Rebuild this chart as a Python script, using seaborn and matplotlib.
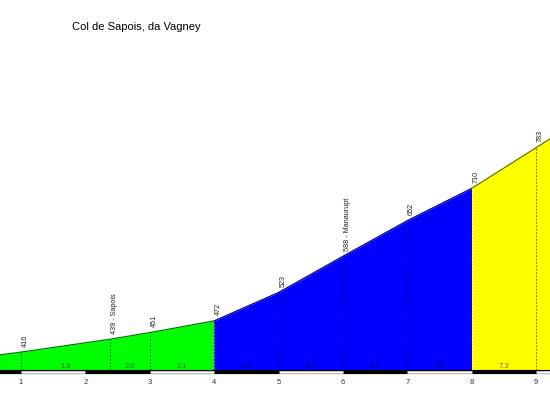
import matplotlib
matplotlib.use("Agg")
import matplotlib.pyplot as plt
import seaborn as sns
import numpy as np
import pandas as pd

# profile points (km, altitude)
km = [0, 1, 2.38, 3, 4, 5, 6, 7, 8, 9, 10]
alt = [401, 416, 439, 451, 472, 523, 588, 652, 710, 783, 857]
# labels shown above the profile
label_km = [1, 2.38, 3, 4, 5, 6, 7, 8, 9]
label_txt = ["416", "439 - Sapois", "451", "472", "523", "588 - Manaurupt", "652", "710", "783"]
# gradient per stretch between labelled points
grad = ["1.8", "2.0", "2.1", "5.1", "6.5", "6.4", "5.8", "7.3"]
km_ticks = [1, 2, 3, 4, 5, 6, 7, 8, 9]
# colour bands
band_start = [0, 4, 8]
band_end = [4, 8, 10]
band_fill = ["#00ff00", "#0000ff", "#ffff00"]
band_dark = ["#007a00", "#00007a", "#6e6e00"]

title = "Col de Sapois, da Vagney"

sns.set_style("white")
plt.rcParams['font.family'] = ['Liberation Sans', 'DejaVu Sans']

df = pd.DataFrame({"km": km, "alt": alt})
base = 383
bar_y = 380

fig = plt.figure(figsize=(5.5, 4), dpi=100)
ax = fig.add_axes([0, 0, 1, 1])
ax.set_xlim(0.674, 9.214)
ax.set_ylim(330, 1048)
ax.axis("off")

def band_of(x):
    for i in range(len(band_start)):
        if band_start[i] <= x < band_end[i]:
            return i
    return len(band_start) - 1

# fills per band
for s, e, c, d in zip(band_start, band_end, band_fill, band_dark):
    xs = np.array([s] + [k for k in km if s < k < e] + [e])
    ys = np.interp(xs, km, alt)
    ax.fill_between(xs, base, ys, color=c, lw=0)
    sub = pd.DataFrame({"km": xs, "alt": ys})
    sns.lineplot(data=sub, x="km", y="alt", ax=ax, color=d, lw=0.9)

# dotted lines + labels at points
for k, t in zip(label_km, label_txt):
    a = np.interp(k, km, alt)
    i = band_of(k - 1e-6) if k in band_end else band_of(k)
    lc = band_dark[band_of(k)]
    if k == 8:
        lc = "white"
    ax.plot([k, k], [base, a], ls=(0, (1.5, 1.5)), color=lc, lw=0.8)
    ax.annotate(t, (k, a), xytext=(3, 4), textcoords="offset points",
                rotation=90, ha="center", va="bottom", fontsize=5.2, color="#222222")

# gradients between labelled points
for j, g in enumerate(grad):
    mid = (label_km[j] + label_km[j + 1]) / 2
    ax.text(mid, 391, g, ha="center", va="center", fontsize=5.5,
            color=band_dark[band_of(mid)])

# km bar
ax.plot([0, 10], [bar_y, bar_y], color="black", lw=3, solid_capstyle="butt")
for k in range(0, 10):
    if k % 2 == 1:
        ax.plot([k, k + 1], [bar_y, bar_y], color="white", lw=1.8, solid_capstyle="butt")

for k in km_ticks:
    ax.text(k, 362, str(k), ha="center", va="center", fontsize=5.5, color="#333333")

fig.text(72 / 550, 1 - 27 / 400, title, ha="left", va="center", fontsize=8, color="black")

fig.savefig("out.png", dpi=100)
